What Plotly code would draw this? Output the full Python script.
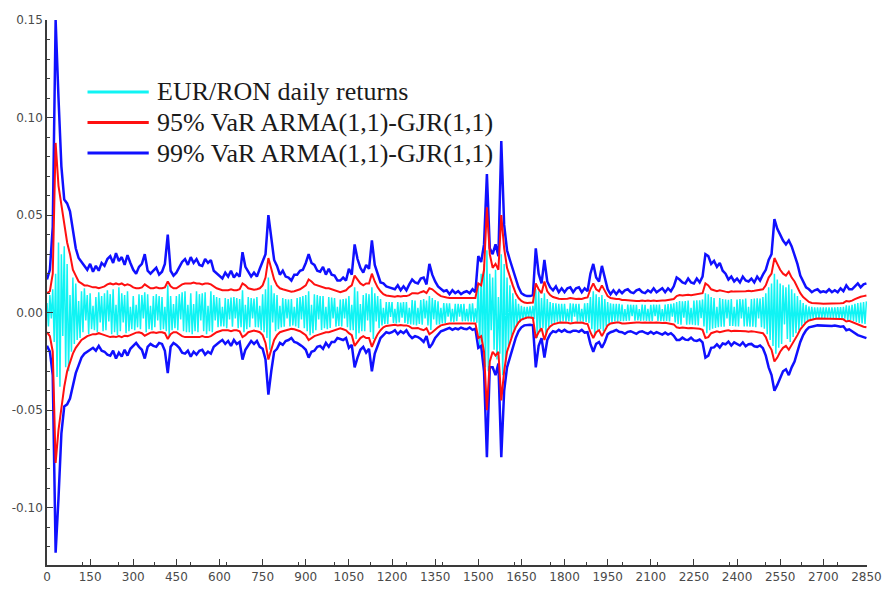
import plotly.graph_objects as go

# Day index; values in units of 1e-4
ret_day = list(range(0, 2851, 5))     # returns read every 5th day
var_day = list(range(0, 2851, 10))    # VaR read every 10th day

returns = [
    50, -70, 90, -30, 120, -150, 200, -330, 360, -380, 300, -120, 340, -280, 250, -300, 90, -200, 180, -160,
    150, -140, 60, -130, 110, -100, 125, -40, 90, -110, 100, -85, 35, -90, 80, -100, 105, -50, 85, -95,
    100, -90, 115, -45, 95, -110, 120, -100, 40, -115, 130, -95, 100, -50, 90, -105, 110, -95, 30, -85,
    85, -90, 40, -75, 95, -85, 90, -30, 105, -100, 95, -85, 35, -90, 85, -75, 95, -40, 85, -90,
    80, -85, 30, -95, 140, -120, 85, -90, 45, -80, 85, -90, 95, -35, 105, -95, 110, -100, 40, -100,
    100, -110, 45, -95, 110, -100, 95, -40, 100, -95, 105, -110, 35, -95, 110, -100, 90, -40, 80, -75,
    75, -70, 30, -70, 75, -80, 70, -35, 78, -72, 80, -30, 75, -80, 70, -75, 115, -100, 40, -85,
    80, -75, 75, -30, 72, -75, 80, -75, 35, -90, 95, -100, 120, -130, 180, -190, 140, -50, 100, -95,
    90, -85, 35, -75, 75, -72, 70, -30, 68, -70, 70, -65, 30, -70, 75, -78, 80, -35, 85, -80,
    90, -95, 110, -115, 40, -105, 95, -90, 90, -35, 85, -88, 85, -80, 30, -85, 80, -78, 78, -30,
    75, -72, 30, -68, 68, -70, 70, -30, 72, -75, 85, -90, 40, -90, 130, -135, 110, -105, 45, -95,
    90, -95, 100, -40, 95, -100, 130, -135, 100, -45, 85, -80, 70, -65, 25, -58, 55, -58, 55, -22,
    55, -52, 20, -55, 55, -50, 52, -25, 55, -52, 55, -58, 25, -60, 65, -62, 62, -65, 25, -58,
    65, -62, 70, -30, 62, -65, 85, -88, 75, -35, 65, -62, 58, -60, 25, -55, 50, -52, 48, -20,
    48, -46, 20, -48, 45, -44, 45, -20, 44, -45, 45, -44, 20, -45, 45, -46, 48, -47, 22, -52,
    150, -170, 200, -180, 250, -280, 320, -300, 200, -90, 180, -190, 220, -240, 80, -210, 300, -320, 250, -260,
    180, -170, 140, -130, 100, -95, 70, -65, 45, -48, 35, -38, 30, -32, 30, -28, 32, -30, 35, -33,
    120, -130, 110, -100, 75, -80, 100, -110, 70, -75, 55, -58, 50, -52, 48, -46, 45, -47, 46, -44,
    45, -46, 20, -45, 48, -47, 47, -20, 45, -46, 46, -45, 20, -46, 48, -47, 50, -52, 80, -85,
    110, -115, 95, -90, 80, -85, 90, -95, 70, -72, 55, -58, 48, -50, 46, -45, 45, -46, 45, -44,
    42, -43, 18, -42, 42, -41, 41, -18, 40, -41, 41, -40, 18, -42, 42, -41, 41, -42, 20, -43,
    40, -42, 42, -18, 41, -42, 42, -43, 18, -43, 42, -44, 44, -45, 45, -20, 48, -50, 55, -58,
    60, -62, 58, -25, 60, -62, 62, -60, 25, -62, 62, -64, 63, -65, 64, -28, 68, -70, 100, -105,
    95, -90, 80, -82, 75, -78, 30, -74, 75, -72, 70, -72, 68, -30, 66, -68, 70, -68, 30, -70,
    68, -70, 70, -30, 68, -70, 72, -70, 30, -72, 70, -72, 72, -74, 74, -30, 72, -75, 80, -82,
    100, -110, 130, -140, 150, -170, 200, -210, 170, -180, 150, -160, 140, -60, 130, -135, 145, -150, 120, -125,
    100, -105, 85, -90, 65, -68, 50, -52, 40, -42, 32, -34, 30, -31, 28, -29, 28, -27, 27, -28,
    27, -28, 27, -26, 27, -28, 28, -27, 28, -29, 29, -28, 29, -30, 30, -31, 38, -40, 36, -37,
    40, -42, 45, -48, 50, -52, 52, -55, 55, -58, 58,
]

var95_upper = [
    100, 110, 200, 870, 650, 560, 450, 360, 300, 220,
    190, 160, 150, 140, 140, 135, 130, 130, 125, 130,
    135, 145, 150, 145, 150, 145, 150, 140, 145, 140,
    130, 125, 125, 130, 145, 135, 125, 125, 130, 125,
    125, 130, 160, 135, 125, 125, 135, 145, 150, 150,
    150, 155, 150, 150, 145, 150, 150, 145, 135, 125,
    120, 115, 115, 115, 120, 115, 115, 120, 150, 140,
    125, 120, 118, 120, 125, 140, 180, 280, 220, 170,
    140, 125, 120, 115, 110, 108, 110, 115, 120, 130,
    140, 170, 160, 145, 140, 135, 130, 125, 125, 120,
    115, 110, 105, 110, 115, 130, 140, 190, 170, 150,
    140, 150, 150, 200, 160, 130, 110, 95, 88, 85,
    85, 82, 85, 83, 85, 85, 90, 100, 100, 98,
    105, 110, 100, 125, 120, 105, 95, 85, 80, 78,
    75, 75, 74, 73, 72, 72, 73, 72, 75, 75,
    150, 140, 220, 540, 300, 230, 250, 220, 500, 330,
    230, 180, 140, 100, 75, 60, 52, 50, 50, 52,
    150, 120, 100, 160, 110, 90, 80, 75, 72, 70,
    70, 72, 75, 72, 70, 72, 70, 75, 78, 120,
    150, 120, 110, 140, 110, 85, 75, 72, 70, 70,
    65, 65, 63, 62, 62, 60, 60, 62, 60, 62,
    60, 62, 60, 62, 63, 62, 65, 65, 70, 85,
    90, 88, 90, 92, 90, 92, 95, 95, 100, 150,
    140, 120, 115, 110, 115, 110, 108, 105, 110, 108,
    108, 110, 108, 110, 112, 110, 112, 115, 115, 120,
    140, 180, 200, 280, 250, 220, 200, 190, 210, 180,
    160, 130, 100, 80, 65, 55, 50, 48, 47, 47,
    46, 46, 46, 46, 47, 48, 48, 50, 60, 58,
    62, 70, 78, 82, 85, 88,
]

var95_lower = [
    -100, -120, -200, -770, -600, -480, -380, -300, -250, -210,
    -180, -160, -140, -130, -120, -115, -110, -110, -105, -110,
    -115, -120, -125, -122, -125, -120, -125, -118, -120, -115,
    -108, -102, -100, -105, -118, -110, -102, -100, -104, -100,
    -100, -105, -135, -110, -100, -100, -110, -120, -125, -125,
    -125, -128, -125, -125, -120, -125, -125, -120, -110, -100,
    -95, -90, -90, -90, -95, -90, -90, -95, -125, -115,
    -100, -95, -92, -95, -100, -115, -155, -240, -190, -140,
    -115, -100, -95, -90, -85, -83, -85, -90, -95, -105,
    -115, -140, -130, -120, -115, -110, -105, -100, -100, -95,
    -90, -85, -80, -85, -90, -105, -115, -170, -150, -130,
    -120, -130, -130, -175, -140, -110, -90, -75, -68, -65,
    -65, -62, -65, -63, -65, -65, -70, -80, -80, -78,
    -85, -90, -80, -110, -100, -85, -75, -65, -60, -58,
    -55, -55, -54, -53, -52, -52, -53, -52, -55, -55,
    -130, -120, -200, -500, -250, -200, -220, -200, -450, -300,
    -200, -150, -110, -75, -50, -35, -28, -25, -25, -27,
    -130, -100, -80, -140, -90, -70, -60, -55, -52, -50,
    -50, -52, -55, -52, -50, -52, -50, -55, -58, -100,
    -130, -100, -90, -120, -90, -65, -55, -52, -50, -50,
    -55, -55, -53, -52, -52, -50, -50, -52, -50, -52,
    -50, -52, -50, -52, -53, -52, -55, -55, -60, -75,
    -78, -76, -78, -80, -78, -80, -82, -82, -88, -130,
    -125, -105, -100, -95, -100, -95, -93, -90, -95, -93,
    -93, -95, -93, -95, -97, -95, -97, -100, -100, -105,
    -125, -165, -190, -250, -230, -200, -180, -170, -190, -165,
    -145, -115, -85, -65, -50, -40, -35, -32, -30, -30,
    -30, -30, -30, -30, -31, -32, -32, -34, -45, -42,
    -48, -55, -63, -68, -72, -75,
]

var99_upper = [
    170, 220, 440, 1500, 1100, 750, 580, 560, 520, 420,
    330, 280, 260, 240, 220, 250, 210, 240, 215, 255,
    240, 275, 290, 255, 305, 265, 285, 245, 295, 255,
    220, 200, 235, 250, 300, 215, 200, 215, 230, 195,
    210, 250, 400, 215, 190, 205, 230, 260, 275, 245,
    285, 255, 275, 245, 240, 275, 255, 270, 215, 200,
    190, 175, 205, 185, 215, 180, 200, 185, 310, 235,
    210, 185, 205, 185, 225, 260, 300, 500, 380, 270,
    240, 195, 215, 185, 180, 165, 195, 195, 215, 220,
    255, 300, 255, 245, 215, 210, 235, 195, 225, 195,
    190, 165, 165, 180, 165, 225, 195, 350, 275, 230,
    205, 245, 225, 370, 245, 200, 155, 150, 135, 130,
    125, 120, 140, 115, 135, 115, 145, 170, 155, 150,
    175, 180, 145, 250, 195, 160, 135, 120, 110, 115,
    95, 115, 100, 110, 95, 105, 110, 100, 120, 105,
    290, 260, 350, 710, 330, 300, 350, 290, 880, 450,
    320, 270, 220, 170, 130, 100, 90, 85, 85, 90,
    330, 200, 150, 270, 160, 130, 115, 135, 105, 125,
    105, 125, 130, 105, 125, 130, 105, 125, 110, 200,
    250, 180, 160, 240, 180, 120, 95, 115, 95, 115,
    100, 115, 120, 105, 100, 115, 120, 105, 100, 115,
    105, 125, 105, 115, 125, 105, 125, 110, 135, 180,
    170, 155, 150, 175, 155, 150, 175, 155, 185, 300,
    290, 250, 265, 235, 255, 215, 200, 170, 185, 160,
    175, 155, 185, 165, 160, 175, 155, 185, 165, 195,
    220, 270, 300, 480, 430, 400, 370, 350, 370, 340,
    300, 250, 190, 160, 130, 120, 105, 115, 120, 105,
    110, 105, 120, 105, 115, 105, 125, 110, 140, 120,
    120, 135, 150, 130, 145, 150,
]

var99_lower = [
    -170, -200, -320, -1230, -950, -620, -480, -470, -440, -380,
    -310, -270, -230, -210, -200, -190, -180, -195, -170, -195,
    -200, -215, -220, -195, -235, -205, -225, -190, -220, -185,
    -170, -155, -175, -190, -235, -175, -160, -170, -175, -155,
    -160, -195, -310, -175, -155, -165, -180, -205, -210, -195,
    -225, -200, -215, -195, -190, -215, -200, -210, -175, -160,
    -150, -140, -160, -145, -170, -140, -160, -150, -240, -190,
    -165, -145, -160, -145, -175, -185, -240, -420, -300, -200,
    -185, -155, -165, -145, -140, -130, -150, -155, -165, -175,
    -190, -230, -200, -195, -175, -170, -185, -155, -175, -150,
    -150, -130, -135, -140, -130, -180, -165, -280, -230, -190,
    -175, -205, -185, -300, -210, -170, -130, -115, -100, -105,
    -100, -90, -110, -95, -105, -90, -115, -130, -120, -125,
    -135, -150, -120, -180, -160, -130, -115, -95, -90, -85,
    -78, -88, -80, -85, -76, -82, -85, -76, -88, -82,
    -180, -170, -300, -740, -280, -280, -320, -260, -740, -400,
    -280, -230, -180, -130, -95, -75, -65, -62, -62, -65,
    -280, -170, -130, -230, -140, -110, -95, -100, -88, -98,
    -88, -98, -100, -92, -92, -98, -88, -102, -100, -160,
    -200, -160, -150, -180, -150, -110, -100, -95, -88, -98,
    -100, -108, -98, -95, -102, -108, -98, -95, -102, -108,
    -98, -108, -100, -105, -112, -102, -112, -105, -118, -140,
    -140, -128, -138, -140, -128, -142, -145, -138, -152, -230,
    -220, -180, -178, -162, -178, -158, -162, -148, -168, -152,
    -160, -168, -152, -172, -162, -160, -172, -175, -168, -182,
    -220, -280, -320, -400, -370, -330, -300, -290, -320, -280,
    -250, -200, -150, -115, -90, -75, -70, -68, -65, -66,
    -65, -68, -66, -68, -66, -70, -72, -70, -90, -85,
    -95, -105, -115, -120, -125, -130,
]

y_tick_vals = [-0.10, -0.05, 0.0, 0.05, 0.10, 0.15]
y_tick_text = ["-0.10", "-0.05", "0.00", "0.05", "0.10", "0.15"]
x_tick_vals = list(range(0, 2851, 150))

legend_labels = ["EUR/RON daily returns", "95% VaR ARMA(1,1)-GJR(1,1)", "99% VaR ARMA(1,1)-GJR(1,1)"]
CYAN, RED, BLUE = "#10f4f4", "#ff1010", "#1010ff"

scale = 1e-4
def sc(a):
    return [v * scale for v in a]

fig = go.Figure()
fig.add_trace(go.Scatter(x=ret_day, y=sc(returns), mode="lines",
                         line=dict(color=CYAN, width=1.5), name=legend_labels[0], showlegend=False))
fig.add_trace(go.Scatter(x=var_day, y=sc(var99_upper), mode="lines",
                         line=dict(color=BLUE, width=2.5), name=legend_labels[2], showlegend=False))
fig.add_trace(go.Scatter(x=var_day, y=sc(var99_lower), mode="lines",
                         line=dict(color=BLUE, width=2.5), name=legend_labels[2], showlegend=False))
fig.add_trace(go.Scatter(x=var_day, y=sc(var95_upper), mode="lines",
                         line=dict(color=RED, width=2), name=legend_labels[1], showlegend=False))
fig.add_trace(go.Scatter(x=var_day, y=sc(var95_lower), mode="lines",
                         line=dict(color=RED, width=2), name=legend_labels[1], showlegend=False))

# Legend drawn manually (long line samples, serif text)
L, T = 47, 20
W, H = 830, 553
def px_x(p):
    return (p - L) / W
def px_y(p):
    return (T + H - p) / H

rows = [(93, CYAN, legend_labels[0]), (124, RED, legend_labels[1]), (155, BLUE, legend_labels[2])]
for py, col, lab in rows:
    fig.add_shape(type="line", xref="paper", yref="paper",
                  x0=px_x(88), x1=px_x(150), y0=px_y(py), y1=px_y(py),
                  line=dict(color=col, width=3))
    fig.add_annotation(xref="paper", yref="paper", x=px_x(156), y=px_y(py),
                       text=lab, showarrow=False, xanchor="left", yanchor="middle",
                       font=dict(family="Liberation Serif, Times New Roman, serif", size=26, color="#1a1a1a"))

axis_common = dict(showgrid=False, zeroline=False, showline=True, linecolor="#3a3a3a", linewidth=1.5,
                   ticks="inside", tickcolor="#3a3a3a", tickwidth=1.2,
                   tickfont=dict(family="DejaVu Sans, Verdana, sans-serif", size=12, color="#4a4a4a"))

fig.update_xaxes(range=[0, 2852], tickvals=x_tick_vals, ticklen=6,
                 minor=dict(dtick=125, tick0=0, ticklen=3, ticks="inside", tickcolor="#3a3a3a"),
                 **axis_common)
fig.update_yaxes(range=[-0.1293, 0.15], tickvals=y_tick_vals, ticktext=y_tick_text, ticklen=6,
                 minor=dict(dtick=0.01, tick0=0, ticklen=3, ticks="inside", tickcolor="#3a3a3a"),
                 **axis_common)

fig.update_layout(width=894, height=596, margin=dict(l=L, r=894 - L - W, t=T, b=596 - T - H),
                  plot_bgcolor="white", paper_bgcolor="white", showlegend=False)

fig.write_html("out.html")
